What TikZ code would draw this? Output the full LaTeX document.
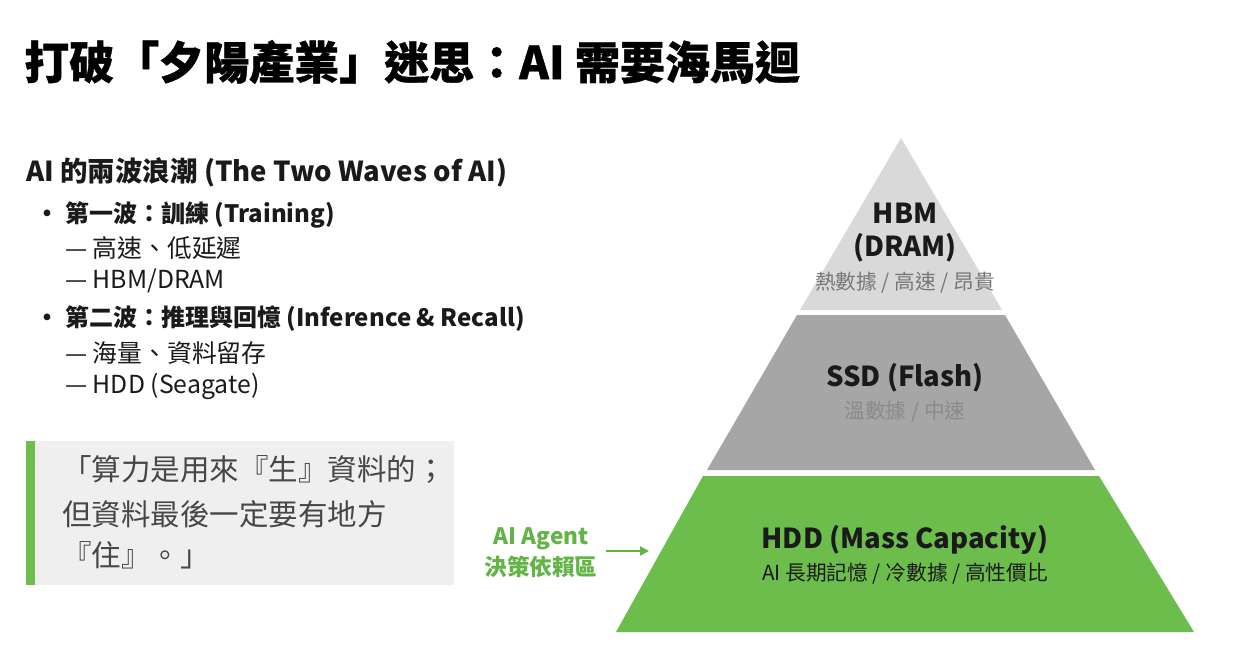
\documentclass[tikz,border=0pt]{standalone}
\usepackage{fontspec}
\setmainfont{Noto Sans CJK TC}
\newfontfamily\ttlfont{Noto Sans CJK TC}[BoldFeatures={FakeBold=0.8}]
\usetikzlibrary{arrows.meta}
\definecolor{hbmc}{HTML}{D9D9D9}
\definecolor{ssdc}{HTML}{A6A6A6}
\definecolor{hddc}{HTML}{6CBD4C}
\definecolor{agentc}{HTML}{62B446}
\definecolor{quotebg}{HTML}{EFEFEF}
\definecolor{quotetxt}{HTML}{474747}
\definecolor{subgray}{HTML}{777777}
\definecolor{sublight}{HTML}{8A8A8A}
\definecolor{bodytxt}{HTML}{1A1A1A}
\begin{document}
\begin{tikzpicture}[x=1pt,y=-1pt,
  txt/.style={inner sep=0pt,anchor=west,text=bodytxt},
  ttl/.style={txt,text=black,font=\fontsize{45}{50}\selectfont\ttlfont\bfseries},
  hdr/.style={txt,font=\fontsize{27.5}{32}\selectfont\bfseries},
  bul/.style={txt,font=\fontsize{24}{29}\selectfont\bfseries},
  sub/.style={txt,font=\fontsize{24.8}{29}\selectfont},
  quo/.style={txt,text=quotetxt,font=\fontsize{29.5}{34}\selectfont},
  tiername/.style={inner sep=0pt,anchor=center,text=bodytxt,font=\fontsize{27.5}{32}\selectfont\bfseries},
  tiersub/.style={inner sep=0pt,anchor=center,font=\fontsize{20.7}{25}\selectfont},
  agent/.style={inner sep=0pt,anchor=center,text=agentc,font=\fontsize{22.6}{27}\selectfont\bfseries}
]
\useasboundingbox[fill=white] (0,0) rectangle (1241,652);

% title
\node[ttl] (title) at (24,62) {打破「夕陽產業」迷思：AI 需要海馬迴};

% left column
\node[hdr] (hdr) at (26,172) {AI 的兩波浪潮 (The Two Waves of AI)};
\node[bul,anchor=center] (b1) at (47,216) {•};
\node[bul] (w1) at (65,215) {第一波：訓練 (Training)};
\node[sub] (w1a) at (65,248) {— 高速、低延遲};
\node[sub] (w1b) at (65,281) {— HBM/DRAM};
\node[bul,anchor=center] (b2) at (47,320) {•};
\node[bul] (w2) at (65,319) {第二波：推理與回憶 (Inference \& Recall)};
\node[sub] (w2a) at (65,353) {— 海量、資料留存};
\node[sub] (w2b) at (65,386) {— HDD (Seagate)};

% quote box
\fill[quotebg] (26,441) rectangle (454,585);
\fill[hddc] (26,441) rectangle (35,585);
\node[quo] (q1) at (62,470) {「算力是用來『生』資料的；};
\node[quo] (q2) at (62,514) {但資料最後一定要有地方};
\node[quo] (q3) at (62,555) {『住』。」};

% pyramid
\fill[hbmc] (901,138) -- (1002,310) -- (800,310) -- cycle;
\fill[ssdc] (797,315) -- (1005,315) -- (1095,470) -- (707,470) -- cycle;
\fill[hddc] (703,476) -- (1099,476) -- (1194,632) -- (616,632) -- cycle;

\node[tiername] (hbm) at (905,213) {HBM};
\node[tiername] (dram) at (905,248) {(DRAM)};
\node[tiersub,text=subgray] (hbmsub) at (905,283) {熱數據 / 高速 / 昂貴};
\node[tiername] (ssd) at (905,378) {SSD (Flash)};
\node[tiersub,text=sublight] (ssdsub) at (905,412) {溫數據 / 中速};
\node[tiername] (hdd) at (905,540) {HDD (Mass Capacity)};
\node[tiersub,text=bodytxt] (hddsub) at (905,574) {AI 長期記憶 / 冷數據 / 高性價比};

% agent label + arrow
\node[agent] (ag1) at (541,539) {AI Agent};
\node[agent] (ag2) at (541,567) {決策依賴區};
\coordinate (arrs) at (606,551);
\coordinate (arre) at (649,551);
\draw[agentc,line width=2.2pt,-{Triangle[length=9pt,width=9pt]}] (arrs) -- (arre);
\end{tikzpicture}
\end{document}
